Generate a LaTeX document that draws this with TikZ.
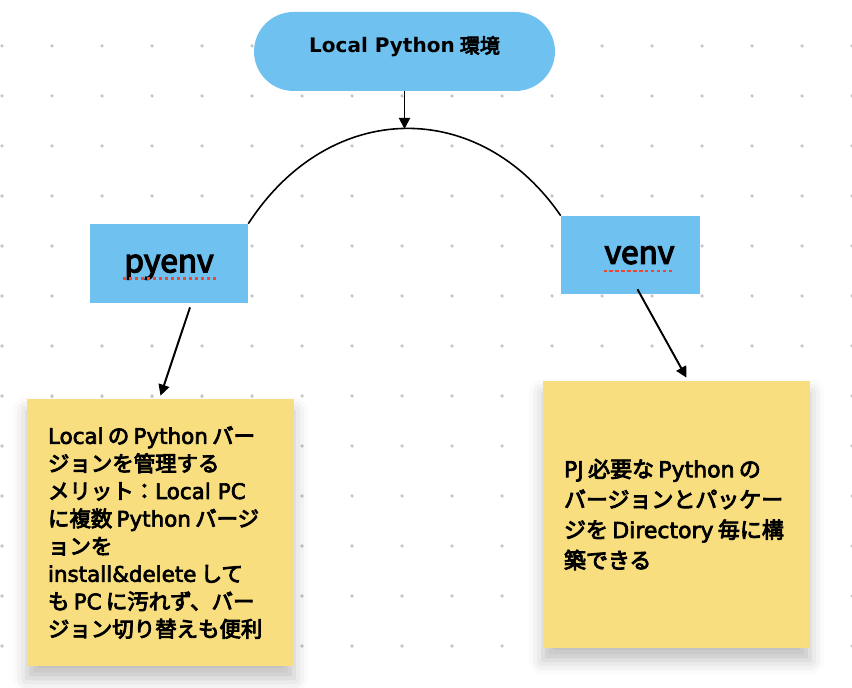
\documentclass[tikz,border=0pt]{standalone}
\usepackage{fontspec}
\setmainfont{Noto Sans CJK JP}
\newfontfamily\medfont{Noto Sans CJK JP}[FakeBold=4]
\newfontfamily\latfont{DejaVu Sans}[FakeBold=3]
\newfontfamily\latheavy{DejaVu Sans Bold}
\usetikzlibrary{arrows.meta,shadows.blur}
\definecolor{skyblue}{RGB}{111,194,239}
\definecolor{stickyyellow}{RGB}{248,222,126}
\definecolor{dotgray}{RGB}{196,196,196}
\definecolor{squiggle}{RGB}{232,72,52}
\newcommand{\jsp}{\hspace{0.2em}}
\newcommand{\lat}[1]{{\latfont #1}}

\begin{document}
\begin{tikzpicture}[x=0.02cm, y=-0.02cm,
    pill/.style={fill=skyblue, rounded corners=0.79cm, minimum width=6.02cm, minimum height=1.58cm,
      font=\medfont\fontsize{11.4}{14}\selectfont, text height=0.3cm, text depth=0.24cm},
    envbox/.style={fill=skyblue, font=\medfont\fontsize{18}{20}\selectfont, text depth=0pt},
    note/.style={fill=stickyyellow, minimum width=5.34cm, minimum height=5.34cm, inner xsep=0.42cm,
      text width=4.5cm, align=left,
      blur shadow={shadow xshift=0pt, shadow yshift=-7pt, shadow blur radius=8pt, shadow opacity=25}},
    link/.style={line width=0.9pt},
    arrow/.style={line width=1.1pt, -{Triangle[length=2.2mm, width=2.2mm]}},
    spell/.style={squiggle, line width=1.6pt, dash pattern=on 1.8pt off 1.6pt}]
  \useasboundingbox (0,0) rectangle (852,688);
  % dotted canvas
  \foreach \i in {0,...,17}
    \foreach \j in {0,...,12}
      \fill[dotgray] (2+50*\i, 46+50*\j) circle (1pt);

  \node[pill] (title) at (404.5,51.5) {{\latheavy Local Python}\hspace{0.25em}環境};
  \node[envbox, minimum width=3.16cm, minimum height=1.58cm] (pyenv) at (169,263.5) {pyenv};
  \node[envbox, minimum width=2.78cm, minimum height=1.56cm] (venv) at (630.5,255) {\hspace*{0.36cm}venv};
  \coordinate (top) at (404.5,129);

  \node[note, font=\medfont\fontsize{12.2}{15.7}\selectfont] (lnote) at (160.5,532.5)
    {\lat{Local}\jsp の\jsp\lat{Python}\jsp バー\\ジョンを管理する\\メリット：\lat{Local PC}\\に複数\jsp\lat{Python}\jsp バージ\\ョンを\\\lat{install\&delete}\jsp して\\も\jsp\lat{PC}\jsp に汚れず、バー\\ジョン切り替えも便利};
  \node[note, font=\medfont\fontsize{12.5}{17.3}\selectfont] (rnote) at (676.5,514.5)
    {\lat{PJ}\jsp 必要な\jsp\lat{Python}\jsp の\\バージョンとパッケー\\ジを\jsp\lat{Directory}\jsp 毎に構\\築できる};

  % spell check marks
  \draw[spell] ([shift={(-46,15)}]pyenv.center) -- ([shift={(47,15)}]pyenv.center);
  \draw[spell] ([shift={(-27,16)}]venv.center) -- ([shift={(42,16)}]venv.center);

  \draw[arrow] (title.south) -- (top);
  \draw[link] (pyenv.north east) .. controls (330,98) and (480,98) .. (venv.north west);
  \draw[arrow] ([shift={(21,4)}]pyenv.south) -- ([shift={(0,-3)}]lnote.north);
  \draw[arrow] ([shift={(7,-5)}]venv.south) -- ([shift={(10,-3)}]rnote.north);
\end{tikzpicture}
\end{document}
